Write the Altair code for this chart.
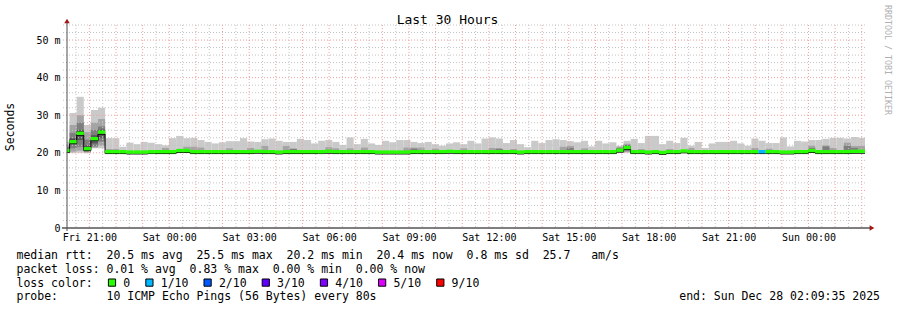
import altair as alt
import numpy as np
import pandas as pd

MONO = "DejaVu Sans Mono"

# ---------------- data ----------------
# time axis in hours since Fri 00:00
T_START = 20 + 9 / 60 + 35 / 3600      # Fri 20:09:35
T_END = T_START + 30                   # Sun 02:09:35
T0 = 19.99                             # start of first 16-minute bin
BIN_H = 16 / 60

# median RTT per bin (ms)
median = [20.6, 22.95, 25.2, 21.1, 23.75, 25.5,
          20.3, 20.3, 20.3, 20.2, 20.2, 20.2, 20.3, 20.3, 20.3, 20.3,
          20.6, 20.6, 20.3, 20.3, 20.3, 20.3, 20.3, 20.3, 20.3, 20.3,
          20.3, 20.4, 20.3, 20.3, 20.2, 20.3, 20.3, 20.3, 20.3, 20.3,
          20.3, 20.4, 20.3, 20.3, 20.3, 20.3, 20.3, 20.3, 20.2, 20.2,
          20.2, 20.2, 20.2, 20.3, 20.3, 20.3, 20.3, 20.3, 20.4, 20.3,
          20.3, 20.3, 20.3, 20.3, 20.3, 20.3, 20.3, 20.3, 20.2, 20.3,
          20.3, 20.3, 20.3, 20.3, 20.3, 20.3, 20.3, 20.3, 20.3, 20.3,
          20.3, 20.3, 20.7, 21.4, 20.3, 20.3, 20.2, 20.3, 20.1, 20.3,
          20.3, 20.5, 20.3, 20.3, 20.3, 20.3, 20.3, 20.3, 20.3, 20.3,
          20.3, 20.3, 20.3, 20.3, 20.3, 20.2, 20.2, 20.3, 20.3, 20.6,
          20.3, 20.3, 20.3, 20.3, 20.3, 20.4, 20.4]

# slowest ping per bin (top of the smoke)
smoke_max = [23.0, 30.6, 34.9, 27.4, 31.4, 32.0,
             23.9, 23.9, 21.6, 22.7, 22.3, 22.9, 22.7, 22.3, 22.0, 23.9,
             24.5, 23.9, 24.0, 23.4, 22.9, 22.5, 22.8, 23.1, 23.1, 23.9,
             23.0, 22.9, 23.6, 23.8, 23.2, 22.9, 22.9, 23.7, 23.4, 22.5,
             23.2, 23.4, 22.9, 22.1, 24.1, 22.3, 23.7, 22.5, 22.1, 23.2,
             22.8, 23.4, 23.4, 22.9, 22.6, 22.9, 22.3, 21.9, 22.5, 22.8,
             22.3, 23.2, 22.5, 23.8, 24.1, 23.8, 22.6, 23.4, 22.3, 21.5,
             23.2, 22.6, 23.4, 23.6, 23.4, 23.1, 22.8, 23.2, 21.7, 23.2,
             22.5, 22.8, 21.9, 23.2, 23.7, 22.6, 24.5, 24.5, 22.3, 23.2,
             22.6, 24.0, 21.9, 22.9, 21.3, 22.5, 22.9, 22.9, 23.2, 22.5,
             21.9, 23.8, 23.2, 22.6, 22.6, 24.1, 21.7, 23.2, 23.0, 23.4,
             23.4, 23.7, 24.0, 24.0, 23.8, 24.2, 24.0]

# bins where the full ping spread is visible (sorted pings p1..p9)
detail_bins = [0, 1, 2, 3, 4, 5, 78, 79]
p1 = [19.9, 19.9, 20.0, 19.9, 21.2, 21.2, 20.0, 20.0]
p2 = [20.0, 20.3, 20.6, 20.1, 21.4, 21.9, 20.1, 20.2]
p3 = [20.1, 21.2, 21.6, 20.3, 21.7, 23.0, 20.2, 20.5]
p4 = [20.2, 22.2, 23.4, 20.6, 22.5, 24.0, 20.4, 20.9]
p5 = [20.3, 22.5, 24.6, 20.8, 23.2, 24.8, 20.5, 21.1]
p6 = [20.8, 23.5, 25.8, 21.5, 24.2, 25.9, 20.9, 21.7]
p7 = [21.0, 23.9, 26.1, 22.0, 24.7, 26.2, 21.0, 21.9]
p8 = [21.5, 25.3, 28.0, 23.5, 26.1, 27.0, 21.3, 22.1]
p9 = [22.0, 27.4, 30.0, 25.5, 28.0, 29.0, 21.6, 22.4]

# other bins with a visible second smoke layer (p9)
mid_bins = [6, 7, 14, 17, 18, 19, 23, 26, 28, 31, 32, 37, 38, 40, 42, 48, 49, 50, 52, 56,
            60, 61, 63, 70, 71, 73, 81, 85, 88, 97, 99, 105, 107, 108, 110, 111, 112]
mid_top = [21.0, 21.0, 21.3, 21.6, 21.6, 21.4, 21.2, 21.3, 21.8, 21.8, 21.2, 21.5, 21.2, 21.2,
           21.4, 21.4, 21.4, 21.4, 21.1, 21.2, 21.3, 21.3, 21.0, 21.6, 21.8, 21.2, 21.0, 21.0,
           21.3, 21.3, 21.1, 21.9, 22.0, 21.3, 22.7, 21.8, 21.8]
# bins with a visible third smoke layer (p8)
dark_bins = [32, 49, 61, 71, 105, 107, 110, 111]
dark_top = [21.0, 21.1, 21.0, 21.3, 21.3, 21.7, 21.9, 21.3]

# bins with packet loss (lost pings out of 10)
loss_bins = [98]
loss_level = [1]

loss_labels = ["0", "1/10", "2/10", "3/10", "4/10", "5/10", "9/10"]
loss_colors = ["#26ff00", "#00b8ff", "#0059ff", "#5e00ff", "#7e00ff", "#dd00ff", "#ff0000"]
loss_keys = [0, 1, 2, 3, 4, 5, 9]

x_tick_hours = [21, 24, 27, 30, 33, 36, 39, 42, 45, 48]
y_tick_ms = [0, 10, 20, 30, 40, 50]

legend_rtt = "median rtt:  20.5 ms avg  25.5 ms max  20.2 ms min  20.4 ms now  0.8 ms sd  25.7   am/s"
legend_loss = "packet loss: 0.01 % avg  0.83 % max  0.00 % min  0.00 % now"
legend_color = "loss color:"
legend_probe = "probe:       10 ICMP Echo Pings (56 Bytes) every 80s"
legend_end = "end: Sun Dec 28 02:09:35 2025"
title_text = "Last 30 Hours"
side_text = "RRDTOOL / TOBI OETIKER"

assert len(median) == len(smoke_max) == 113
assert len(mid_bins) == len(mid_top) and len(dark_bins) == len(dark_top)

# ---------------- build tables ----------------
n = len(median)
starts = [T0 + i * BIN_H for i in range(n)]
ends = [s + BIN_H for s in starts]
detail = {b: k for k, b in enumerate(detail_bins)}
mid = dict(zip(mid_bins, mid_top))
dark = dict(zip(dark_bins, dark_top))

SH = ["#cacaca", "#a4a4a4", "#7e7e7e", "#585858", "#323232"]
rows = []
for band in range(5):
    for i in range(n):
        m = median[i]
        base = m - 0.5
        lo = hi = None
        if i in detail:
            k = detail[i]
            pairs = [(p1[k], smoke_max[i]), (p2[k], p9[k]), (p3[k], p8[k]),
                     (p4[k], p7[k]), (p5[k], p6[k])]
            lo, hi = pairs[band]
        else:
            if band == 0:
                lo, hi = base, smoke_max[i]
            elif band == 1 and i in mid:
                lo, hi = base, mid[i]
            elif band == 2 and i in dark:
                lo, hi = base, dark[i]
        if lo is not None:
            rows.append({"x": starts[i], "x2": ends[i], "lo": lo, "hi": hi, "c": SH[band]})
smoke_df = pd.DataFrame(rows)

loss_of = dict(zip(loss_bins, loss_level))
col_of = dict(zip(loss_keys, loss_colors))
med_df = pd.DataFrame({
    "x": starts, "x2": ends,
    "lo": [m - 0.45 for m in median], "hi": [m + 0.45 for m in median],
    "c": [col_of[loss_of.get(i, 0)] for i in range(n)],
})
line_df = pd.DataFrame({"x": starts + [ends[-1]],
                        "y": [m - 0.5 for m in median] + [median[-1] - 0.5]})

# ---------------- scales / axes ----------------
XS = alt.Scale(domain=[T_START, T_END], nice=False, zero=False)
YS = alt.Scale(domain=[0, 54], nice=False, zero=False)
x_label_expr = ("['Fri','Sat','Sun'][floor(datum.value/24)] + ' ' + "
                "((datum.value % 24) < 10 ? '0' : '') + (datum.value % 24) + ':00'")
y_label_expr = "datum.value == 0 ? '0\u00a0\u00a0' : datum.value + ' m'"
XA = alt.Axis(values=x_tick_hours, labelExpr=x_label_expr, title=None, grid=False,
              domain=False, ticks=False, labelFont=MONO, labelFontSize=10,
              labelColor="#000000", labelPadding=4, labelFlush=False, labelOverlap=False)
YA = alt.Axis(values=y_tick_ms, labelExpr=y_label_expr, title=None, grid=False,
              domain=False, ticks=False, labelFont=MONO, labelFontSize=10,
              labelColor="#000000", labelPadding=7, labelFlush=False, labelOverlap=False)

smoke = alt.Chart(smoke_df).mark_rect(clip=True).encode(
    x=alt.X("x:Q", scale=XS, axis=XA), x2="x2:Q",
    y=alt.Y("lo:Q", scale=YS, axis=YA), y2="hi:Q",
    color=alt.Color("c:N", scale=None))

blackline = alt.Chart(line_df).mark_line(interpolate="step-after", color="#000000",
                                         strokeWidth=1, clip=True).encode(
    x=alt.X("x:Q", scale=XS, axis=XA), y=alt.Y("y:Q", scale=YS, axis=YA))

medband = alt.Chart(med_df).mark_rect(clip=True).encode(
    x=alt.X("x:Q", scale=XS, axis=XA), x2="x2:Q",
    y=alt.Y("lo:Q", scale=YS, axis=YA), y2="hi:Q",
    color=alt.Color("c:N", scale=None))

# grid
v_minor = [h for h in np.arange(20.5, T_END, 0.5) if h % 1 != 0]
v_major = [h for h in np.arange(21, T_END, 1.0)]
h_minor = [v for v in range(2, 55, 2) if v % 10 != 0]
h_major = [10, 20, 30, 40, 50]

def vgrid(vals, color):
    return alt.Chart(pd.DataFrame({"t": vals})).mark_rule(
        color=color, strokeWidth=1, strokeDash=[1, 2]).encode(
        x=alt.X("t:Q", scale=XS, axis=XA))

def hgrid(vals, color):
    return alt.Chart(pd.DataFrame({"v": vals})).mark_rule(
        color=color, strokeWidth=1, strokeDash=[1, 2]).encode(
        y=alt.Y("v:Q", scale=YS, axis=YA), x=alt.value(-4), x2=alt.value(799))

MINOR = "#c4c4c4"
MAJOR = "#f0a0a0"

one = pd.DataFrame({"a": [0]})

def txt(text, x, y, **kw):
    return alt.Chart(pd.DataFrame({"t": [text.replace(" ", "\u00a0")]})).mark_text(**kw).encode(
        x=alt.value(x), y=alt.value(y), text="t:N")

layers = [smoke,
          vgrid(v_minor, MINOR), hgrid(h_minor, MINOR),
          vgrid(v_major, MAJOR), hgrid(h_major, MAJOR),
          blackline, medband]

# axis lines + arrows
layers.append(alt.Chart(one).mark_rule(color="#000000", strokeWidth=1).encode(
    x=alt.value(-5), x2=alt.value(803), y=alt.value(203)))
layers.append(alt.Chart(one).mark_rule(color="#505050", strokeWidth=1).encode(
    x=alt.value(0), y=alt.value(206), y2=alt.value(-2)))
layers.append(alt.Chart(one).mark_point(shape="triangle-up", filled=True, size=30,
                                        color="#a01818", opacity=1).encode(
    x=alt.value(0), y=alt.value(-4)))
layers.append(alt.Chart(one).mark_point(shape="triangle-right", filled=True, size=30,
                                        color="#a01818", opacity=1).encode(
    x=alt.value(805), y=alt.value(203)))

# texts
layers.append(txt(title_text, 380.5, -1, font=MONO, fontSize=13, align="center",
                  baseline="alphabetic", color="#000000"))
layers.append(txt("Seconds", -56, 102, font=MONO, fontSize=11.5, align="center",
                  baseline="middle", angle=270, color="#000000"))
layers.append(txt(side_text, 820, 35, font=MONO, fontSize=8.3, align="center",
                  baseline="middle", angle=90, color="#b0b0b0"))

LX = -50.5
LY = [234, 247.8, 261.6, 275.4]
for s, yy in zip([legend_rtt, legend_loss, legend_color, legend_probe], LY):
    layers.append(txt(s, LX, yy, font=MONO, fontSize=11.5, align="left",
                      baseline="alphabetic", color="#000000"))
layers.append(txt(legend_end, 813, LY[3], font=MONO, fontSize=11.5, align="right",
                  baseline="alphabetic", color="#000000"))

CW = 6.92
cx = 112 - 67
for lab, col in zip(loss_labels, loss_colors):
    layers.append(alt.Chart(one).mark_square(size=52, filled=True, color=col,
                                             stroke="#000000", strokeWidth=1, opacity=1).encode(
        x=alt.value(cx), y=alt.value(257.6)))
    layers.append(txt(lab, cx + 11.3, LY[2], font=MONO, fontSize=11.5, align="left",
                      baseline="alphabetic", color="#000000"))
    cx = cx + 11.3 + len(lab) * CW + 19.2

chart = alt.layer(*layers).properties(
    width=799, height=203,
    padding={"left": 67, "top": 25, "right": 31, "bottom": 82},
    autosize=alt.AutoSizeParams(type="none"),
    background="#ffffff",
).configure_view(stroke=None)

chart.save("out.html", embed_options={"renderer": "svg", "actions": False})
